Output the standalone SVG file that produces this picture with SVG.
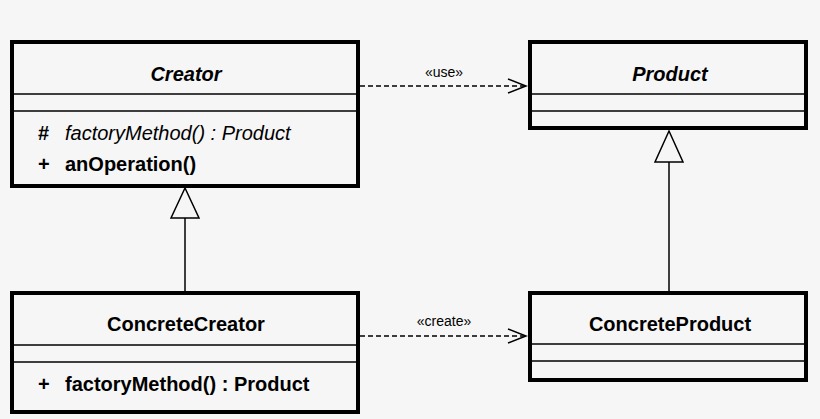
<svg xmlns="http://www.w3.org/2000/svg" width="820" height="419" viewBox="0 0 820 419">
<style>
.box{fill:#f6f6f6;stroke:#000;stroke-width:4}
.sep{stroke:#000;stroke-width:1.5}
text{font-family:"Liberation Sans",Arial,sans-serif;fill:#000}
.t{font-size:20px;font-weight:bold;text-anchor:middle}
.m{font-size:20px}
.l{font-size:14px;text-anchor:middle}
.dash{stroke:#000;stroke-width:1.5;stroke-dasharray:5,3;fill:none}
.solid{stroke:#000;stroke-width:1.5;fill:none}
</style>
<defs>
<marker id="open" markerWidth="22" markerHeight="16" refX="20" refY="8" orient="auto" markerUnits="userSpaceOnUse">
<path d="M2,1 L20,8 L2,15" fill="none" stroke="#000" stroke-width="1.5"/>
</marker>
</defs>
<rect width="820" height="419" fill="#f6f6f6"/>
<g id="connectors">
<line class="dash" x1="360" y1="86" x2="526" y2="86" marker-end="url(#open)"/>
<text class="l" x="444" y="77">«use»</text>
<line class="dash" x1="360" y1="336" x2="526" y2="336" marker-end="url(#open)"/>
<text class="l" x="444" y="326">«create»</text>
<line class="solid" x1="185" y1="218" x2="185" y2="292"/>
<polygon points="185,188 171,218 199,218" fill="#f6f6f6" stroke="#000" stroke-width="1.5"/>
<line class="solid" x1="669" y1="162" x2="669" y2="292"/>
<polygon points="669,131 655,162 683,162" fill="#f6f6f6" stroke="#000" stroke-width="1.5"/>
</g>
<g id="Creator">
<rect class="box" x="12" y="42" width="346" height="144"/>
<line class="sep" x1="14" y1="94" x2="356" y2="94"/>
<line class="sep" x1="14" y1="111" x2="356" y2="111"/>
<text class="t" x="186" y="81" font-style="italic">Creator</text>
<text class="m" x="38" y="140" font-weight="bold">#</text>
<text class="m" x="65" y="140" font-style="italic">factoryMethod() : Product</text>
<text class="m" x="38" y="171" font-weight="bold">+</text>
<text class="m" x="65" y="171" font-weight="bold">anOperation()</text>
</g>
<g id="Product">
<rect class="box" x="530" y="42" width="276" height="86"/>
<line class="sep" x1="532" y1="94" x2="804" y2="94"/>
<line class="sep" x1="532" y1="111" x2="804" y2="111"/>
<text class="t" x="670" y="81" font-style="italic">Product</text>
</g>
<g id="ConcreteCreator">
<rect class="box" x="12" y="293" width="346" height="119"/>
<line class="sep" x1="14" y1="345" x2="356" y2="345"/>
<line class="sep" x1="14" y1="362" x2="356" y2="362"/>
<text class="t" x="186" y="331">ConcreteCreator</text>
<text class="m" x="38" y="391" font-weight="bold">+</text>
<text class="m" x="65" y="391" font-weight="bold">factoryMethod() : Product</text>
</g>
<g id="ConcreteProduct">
<rect class="box" x="530" y="293" width="276" height="87"/>
<line class="sep" x1="532" y1="344" x2="804" y2="344"/>
<line class="sep" x1="532" y1="361" x2="804" y2="361"/>
<text class="t" x="670" y="331">ConcreteProduct</text>
</g>
</svg>
